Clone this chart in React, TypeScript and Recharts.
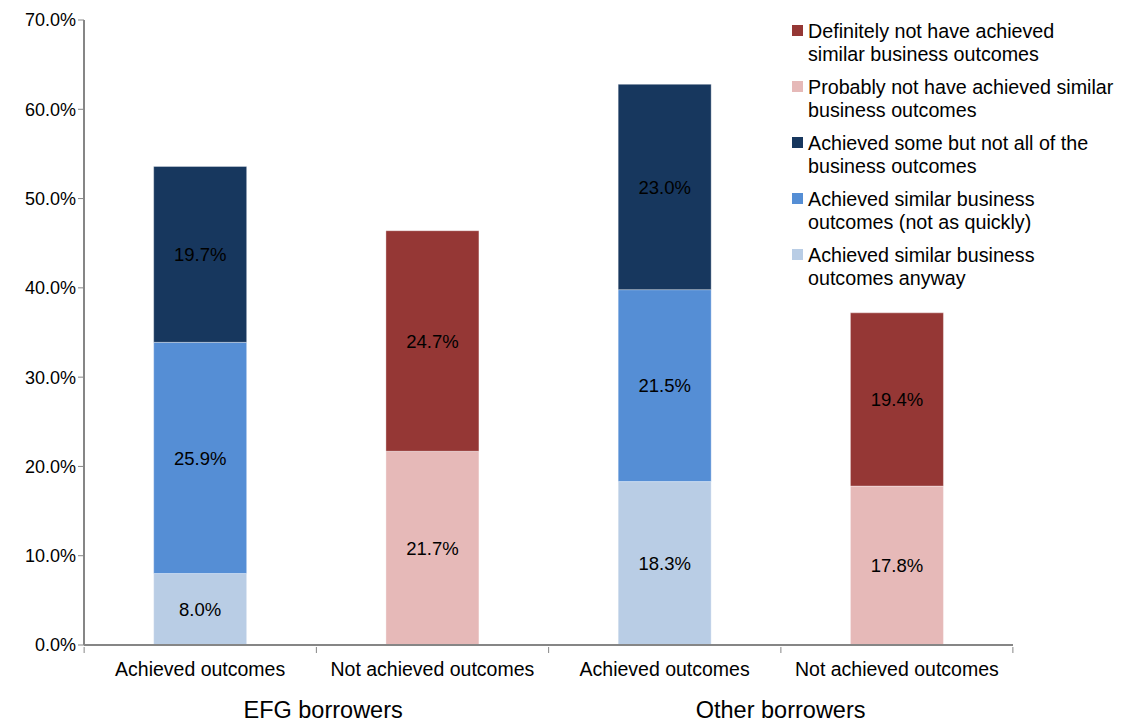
import React from 'react';
import { BarChart, Bar, XAxis, YAxis, LabelList } from 'recharts';

const categories = ['Achieved outcomes', 'Not achieved outcomes', 'Achieved outcomes', 'Not achieved outcomes'];
const groups = ['EFG borrowers', 'EFG borrowers', 'Other borrowers', 'Other borrowers'];

const anyway = [8.0, 0, 18.3, 0];
const notQuickly = [25.9, 0, 21.5, 0];
const someNotAll = [19.7, 0, 23.0, 0];
const probablyNot = [0, 21.7, 0, 17.8];
const definitelyNot = [0, 24.7, 0, 19.4];

const yTicks = [0, 10, 20, 30, 40, 50, 60, 70];

const series = [
  { key: 'anyway', name: 'Achieved similar business outcomes anyway', color: '#B9CDE5', values: anyway },
  { key: 'notQuickly', name: 'Achieved similar business outcomes (not as quickly)', color: '#558ED5', values: notQuickly },
  { key: 'someNotAll', name: 'Achieved some but not all of the business outcomes', color: '#17375E', values: someNotAll },
  { key: 'probablyNot', name: 'Probably not have achieved similar business outcomes', color: '#E6B9B8', values: probablyNot },
  { key: 'definitelyNot', name: 'Definitely not have achieved similar business outcomes', color: '#953735', values: definitelyNot },
];

// legend lines as they wrap in the original
const legendLines: [string, string][] = [
  ['Definitely not have achieved', 'similar business outcomes'],
  ['Probably not have achieved similar', 'business outcomes'],
  ['Achieved some but not all of the', 'business outcomes'],
  ['Achieved similar business', 'outcomes (not as quickly)'],
  ['Achieved similar business', 'outcomes anyway'],
];
const legendColors = ['#953735', '#E6B9B8', '#17375E', '#558ED5', '#B9CDE5'];

const data = categories.map((c, i) => {
  const row: Record<string, any> = { name: c, group: groups[i] };
  series.forEach((s) => {
    row[s.key] = s.values[i] || null;
  });
  return row;
});

const FONT = 'Liberation Sans, Arial, sans-serif';
const HALF_BAND = 116;

const CategoryTick = (props: any) => {
  const { x, y, payload, index } = props;
  const showGroup = index % 2 === 0;
  return (
    <g>
      <line x1={x - HALF_BAND} y1={y} x2={x - HALF_BAND} y2={y + 6} stroke="#868686" />
      {index === categories.length - 1 && (
        <line x1={x + HALF_BAND} y1={y} x2={x + HALF_BAND} y2={y + 6} stroke="#868686" />
      )}
      <text x={x} y={y + 29} textAnchor="middle" fontSize={19.5} fill="#000" fontFamily={FONT}>
        {payload.value}
      </text>
      {showGroup && (
        <text x={x + HALF_BAND + (index === 0 ? 7 : 0)} y={y + 71} textAnchor="middle" fontSize={23.5} fill="#000" fontFamily={FONT}>
          {groups[index]}
        </text>
      )}
    </g>
  );
};

const fmt = (v: any) => (v ? `${Number(v).toFixed(1)}%` : '');

export default function App() {
  return (
    <div style={{ position: 'absolute', left: 0, top: 0, width: 1122, height: 722, background: '#fff', fontFamily: FONT }}>
      <BarChart
        width={1122}
        height={722}
        data={data}
        margin={{ top: 20, right: 109, left: 0, bottom: 0 }}
        barCategoryGap="30%"
      >
        <XAxis
          dataKey="name"
          tick={<CategoryTick />}
          tickLine={false}
          tickSize={0}
          axisLine={{ stroke: '#868686', strokeWidth: 2 }}
          interval={0}
          height={77}
        />
        <YAxis
          domain={[0, 70]}
          ticks={yTicks}
          tickFormatter={(v) => `${v.toFixed(1)}%`}
          tick={{ fontSize: 18, fill: '#000', fontFamily: FONT }}
          tickLine={{ stroke: '#868686' }}
          tickSize={6}
          axisLine={{ stroke: '#868686', strokeWidth: 2 }}
          width={84}
        />
        {series.map((s) => (
          <Bar key={s.key} dataKey={s.key} name={s.name} stackId="a" fill={s.color} stroke="rgba(255,255,255,0.35)" strokeWidth={1} isAnimationActive={false}>
            <LabelList dataKey={s.key} position="center" formatter={fmt} fill="#000" fontSize={18.5} fontFamily={FONT} />
          </Bar>
        ))}
      </BarChart>
      <div style={{ position: 'absolute', left: 792, top: 20, fontSize: 19.7, lineHeight: '23px', color: '#000' }}>
        {legendLines.map((lines, i) => (
          <div key={i} style={{ display: 'flex', marginBottom: 10 }}>
            <div style={{ width: 11, height: 11, background: legendColors[i], marginTop: 5, marginRight: 5, flexShrink: 0 }} />
            <div>
              {lines.map((l, j) => (
                <div key={j}>{l}</div>
              ))}
            </div>
          </div>
        ))}
      </div>
    </div>
  );
}
